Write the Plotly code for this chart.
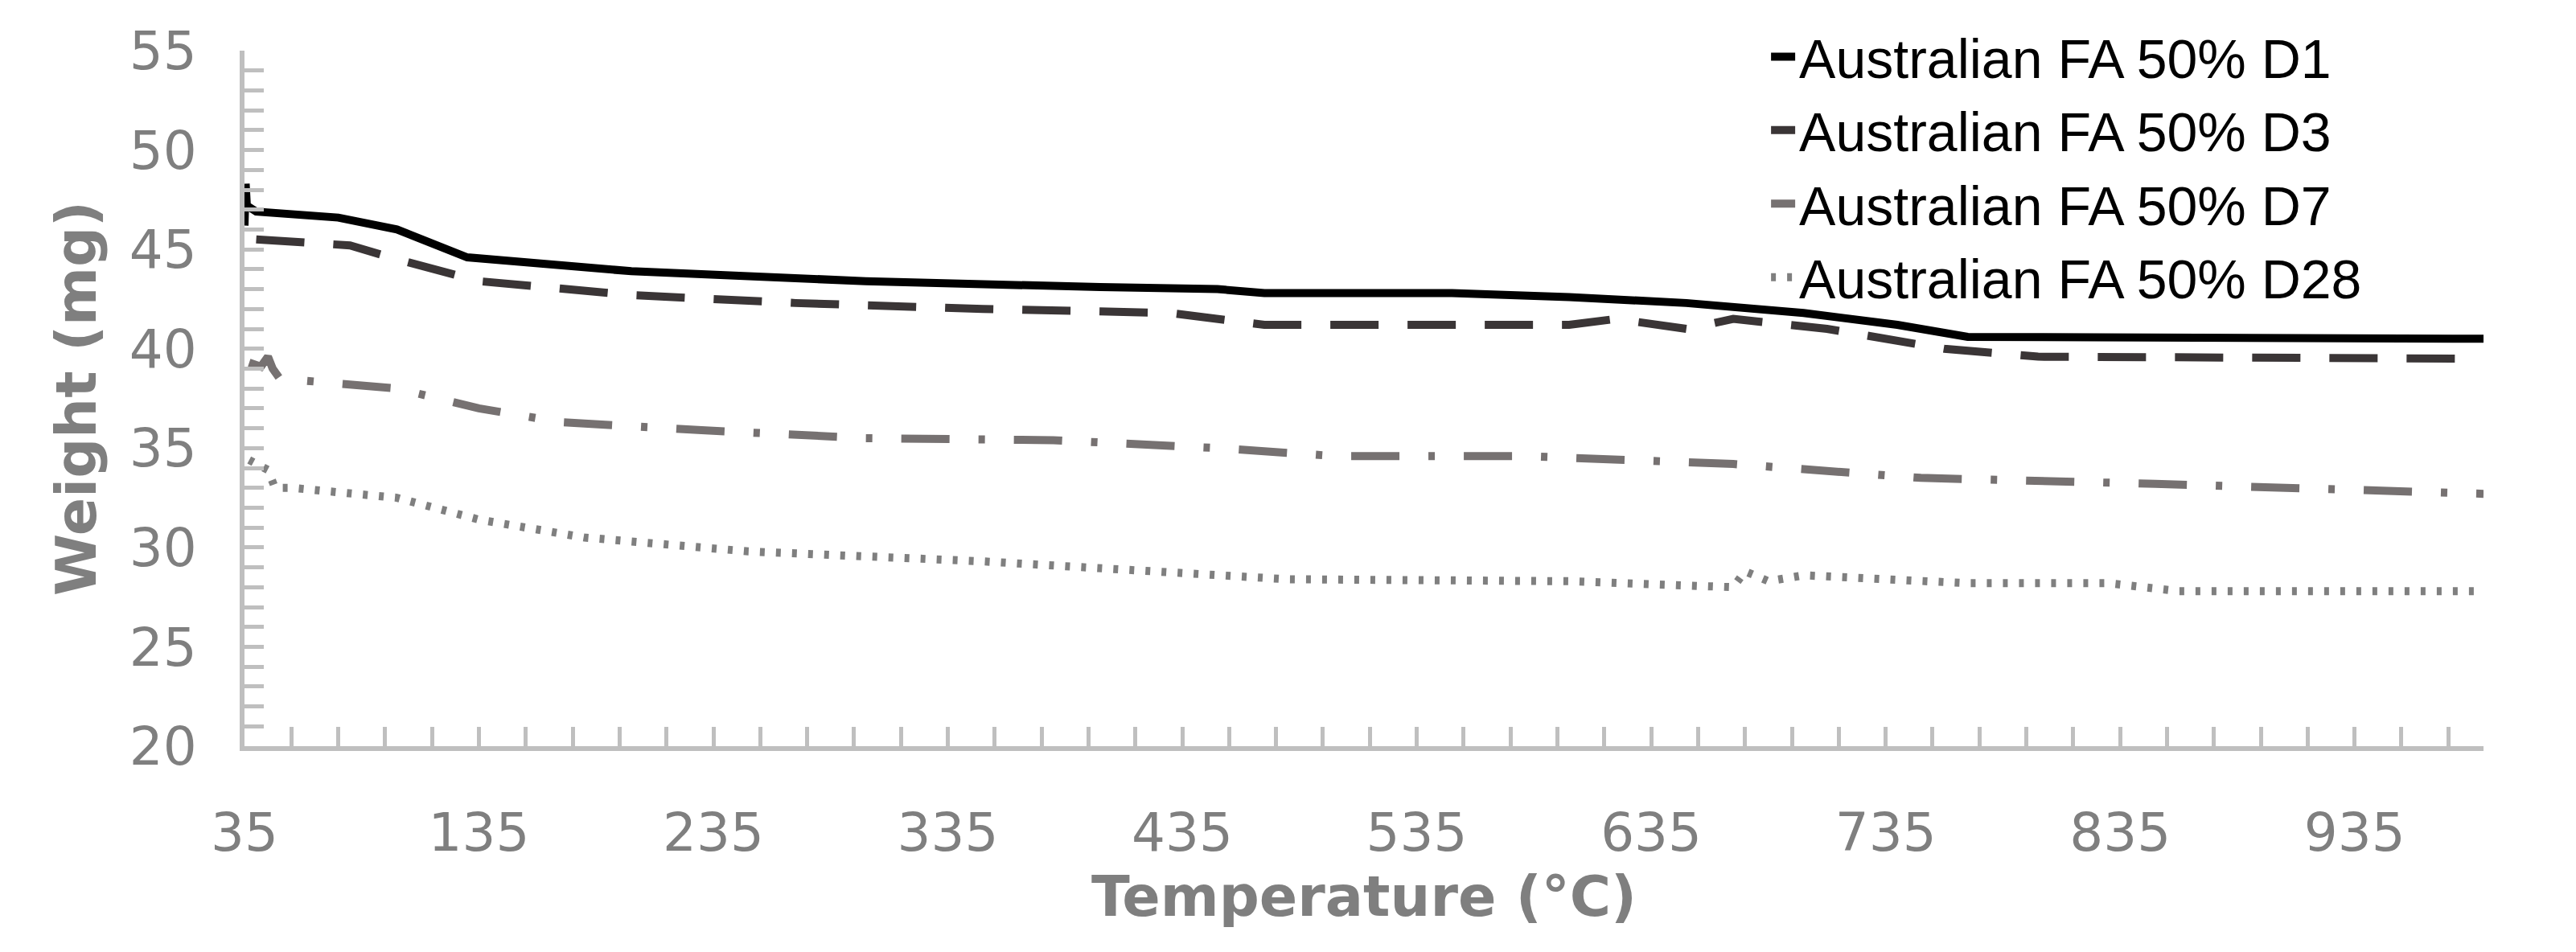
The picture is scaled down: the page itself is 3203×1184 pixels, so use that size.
import plotly.graph_objects as go

d1_x = [35, 35.5, 36, 40, 75, 100, 130, 200, 300, 400, 450, 470, 550, 600, 650, 700, 740, 770, 850, 990]
d1_y = [46.2, 48.3, 47.2, 46.9, 46.6, 46.0, 44.6, 43.9, 43.4, 43.1, 43.0, 42.8, 42.8, 42.6, 42.3, 41.8, 41.2, 40.6, 40.6, 40.5]
d3_x = [40, 80, 100, 135, 200, 270, 350, 430, 470, 600, 620, 650, 670, 710, 760, 800, 990]
d3_y = [45.5, 45.2, 44.5, 43.4, 42.7, 42.3, 42.0, 41.8, 41.2, 41.2, 41.5, 41.0, 41.5, 41.0, 40.0, 39.6, 39.5]
d7_x = [37, 42, 45, 47, 50, 100, 135, 170, 230, 300, 380, 450, 500, 580, 670, 750, 850, 990]
d7_y = [39.3, 39.1, 39.6, 39.0, 38.5, 38.0, 37.0, 36.3, 35.9, 35.5, 35.4, 35.0, 34.6, 34.6, 34.2, 33.5, 33.2, 32.7]
d28_x = [37, 45, 48, 55, 100, 135, 180, 250, 350, 430, 480, 600, 670, 675, 685, 700, 770, 830, 860, 990]
d28_y = [34.4, 33.9, 33.0, 33.0, 32.5, 31.4, 30.5, 29.8, 29.3, 28.8, 28.4, 28.3, 28.0, 28.8, 28.3, 28.6, 28.2, 28.2, 27.8, 27.8]

names = ["Australian FA 50% D1", "Australian FA 50% D3", "Australian FA 50% D7", "Australian FA 50% D28"]
series = [(d1_x, d1_y), (d3_x, d3_y), (d7_x, d7_y), (d28_x, d28_y)]
colors = ["#000000", "#3a3536", "#767171", "#7f7f7f"]
dashes = ["solid", "60px,36px", "60px,36px,8px,36px", "6px,14px"]

fig = go.Figure()
for (x, y), n, c, d in zip(series, names, colors, dashes):
    fig.add_trace(go.Scatter(x=x, y=y, name=n, mode="lines",
                             line=dict(color=c, width=10, dash=d)))

gray = "#7f7f7f"
fig.update_layout(
    width=3203, height=1184,
    margin=dict(l=296, r=123, t=50, b=264),
    plot_bgcolor="white", paper_bgcolor="white",
    font=dict(family="DejaVu Sans", color=gray, size=66),
    legend=dict(x=0.68, y=1.05, xanchor="left", yanchor="top",
                font=dict(family="Liberation Sans Narrow, Liberation Sans", size=68, color="black"),
                bgcolor="rgba(255,255,255,0)", tracegroupgap=0),
    xaxis=dict(range=[35, 990], tick0=35, dtick=100, showgrid=False,
               showline=True, linecolor="#bfbfbf", linewidth=6,
               ticks="inside", ticklen=24, tickwidth=5, tickcolor="#bfbfbf",
               minor=dict(dtick=20, tick0=35, ticks="inside", ticklen=24, tickwidth=5, tickcolor="#bfbfbf"),
               ticklabelstandoff=45,
               title=dict(text="<b>Temperature (°C)</b>", font=dict(size=70, color=gray), standoff=0),
               zeroline=False),
    yaxis=dict(range=[20, 55], dtick=5, showgrid=False,
               showline=True, linecolor="#bfbfbf", linewidth=6,
               ticks="inside", ticklen=24, tickwidth=5, tickcolor="#bfbfbf",
               minor=dict(dtick=1, ticks="inside", ticklen=24, tickwidth=5, tickcolor="#bfbfbf"),
               ticklabelstandoff=40,
               title=dict(text="<b>Weight (mg)</b>", font=dict(size=70, color=gray), standoff=20),
               zeroline=False),
)
fig.write_html("out.html")
